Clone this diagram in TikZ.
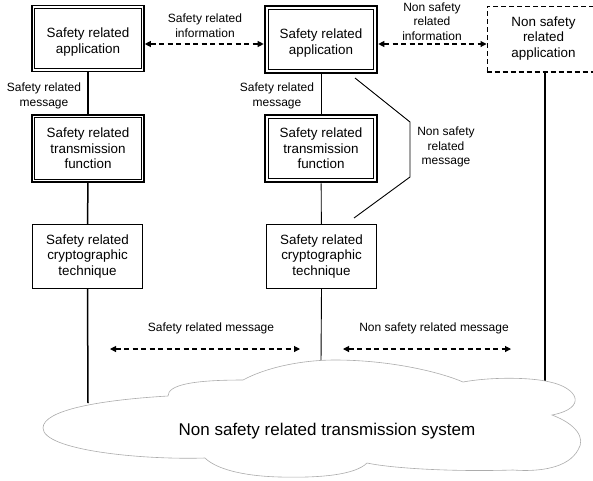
\documentclass[tikz,border=0pt]{standalone}
\usepackage{fontspec}
\setmainfont{Liberation Sans}
\usetikzlibrary{arrows.meta}
% text of the application boxes sits a little below the box centre
\newcommand\lowtext[1]{\raisebox{-4pt}[\height][\depth]{\begin{tabular}{@{}c@{}}#1\end{tabular}}}
\begin{document}
\begin{tikzpicture}[x=1pt,y=-1pt,
  txt/.style={font=\fontsize{12}{14.5}\selectfont, align=center, inner sep=0pt},
  boxtxt/.style={font=\fontsize{13.4}{15.5}\selectfont, align=center, inner sep=0pt},
  unit/.style={draw, boxtxt, line width=0.8pt, minimum width=110pt, minimum height=64pt},
  lefttier/.style={unit, line width=1.6pt, minimum width=112pt, minimum height=66pt},
  midtier/.style={unit, line width=2.6pt, minimum width=112pt, minimum height=67pt},
  plainbox/.style={draw, boxtxt, line width=1pt, dash pattern=on 5pt off 3pt, minimum width=113pt, minimum height=65pt},
  innerline/.style={line width=0.7pt},
  link/.style={line width=1.5pt},
  thinlink/.style={line width=0.9pt},
  msg/.style={line width=1.1pt, dash pattern=on 5pt off 3.5pt,
    {Triangle[length=6pt,width=6pt]}-{Triangle[length=6pt,width=6pt]}},
  cloudline/.style={draw=gray!65, fill=white, line width=0.6pt}
]
\useasboundingbox (0,0) rectangle (593,480);

% left end: safety related stack
\node[lefttier] (a1) at (88,38.5) {\lowtext{Safety related\\application}};
\node[lefttier, minimum height=67pt] (t1) at (88,148.5) {Safety related\\transmission\\function};
\node[unit] (c1) at (87.5,256.5) {Safety related\\cryptographic\\technique};

% middle end: safety related stack
\node[midtier] (a2) at (321,39.5) {\lowtext{Safety related\\application}};
\node[midtier] (t2) at (321,148.5) {Safety related\\transmission\\function};
\node[unit] (c2) at (321.5,256.5) {Safety related\\cryptographic\\technique};

% right end: non safety related application
\node[plainbox] (ns) at (543.5,38.5) {Non safety\\related\\application};
\draw[line width=2pt, dash pattern=on 5pt off 3pt] (ns.south west) -- (ns.south east);

% inner frames of the double-framed boxes
\foreach \n in {a1,t1}
  \draw[innerline] ([shift={(3.5,3.5)}]\n.north west) rectangle ([shift={(-3.5,-3.5)}]\n.south east);
\foreach \n in {a2,t2}
  \draw[innerline] ([shift={(4.5,4.5)}]\n.north west) rectangle ([shift={(-4.5,-4.5)}]\n.south east);

% where the stacks enter the transmission system
\coordinate (leftin) at (88,403);
\coordinate (midin) at (321,362);
\coordinate (rightin) at (545,382);

% vertical message paths
\draw[link] (a1) -- (t1);
\draw[link] (t1) -- (c1);
\draw[link] (c1.south) -- (leftin);
\draw[thinlink] (a2) -- (t2);
\draw[thinlink] (t2) -- (c2);
\draw[thinlink] (c2.south) -- (midin);
\draw[link] (ns.south -| rightin) -- (rightin);

% non safety related message bypassing the transmission function
\coordinate (byA) at (355,78);
\coordinate (byB) at (410,122);
\coordinate (byC) at (410,177);
\coordinate (byD) at (354,218);
\draw[thinlink] (byA) -- (byB) -- (byC) -- (byD);
\node[txt] (lblbypass) at (446,147) {Non safety\\related\\message};

% information exchange between applications
\draw[msg] ([yshift=-5.5pt]a1.east) -- ([yshift=-4.5pt]a2.west);
\draw[msg] ([yshift=-4.5pt]a2.east) -- ([yshift=-5.5pt]ns.west);
\node[txt] (lblinfo) at (205,25.5) {Safety related\\information};
\node[txt] (lblnsinfo) at (432,21.5) {Non safety\\related\\information};

% message labels beside the upper links
\node[txt] (lblmsgL) at (44,96) {Safety related\\message};
\node[txt] (lblmsgM) at (277,96) {Safety related\\message};

% messages across the transmission system
\coordinate (m1a) at (110,349);
\coordinate (m1b) at (300,349);
\coordinate (m2a) at (343,349);
\coordinate (m2b) at (511,349);
\draw[msg] (m1a) -- (m1b);
\draw[msg] (m2a) -- (m2b);
\node[txt] (lblsm) at (211,328) {Safety related message};
\node[txt] (lblnsm) at (434,328) {Non safety related message};

% the transmission system cloud
\path[cloudline]
  (43,428) .. controls (43,410) and (100,400) .. (168,396)
  .. controls (168,385) and (192,380) .. (243,380)
  .. controls (265,368) and (300,360) .. (335,360)
  .. controls (390,360) and (440,372) .. (463,382)
  .. controls (490,377) and (530,377) .. (550,382)
  .. controls (578,388) and (588,408) .. (552,415)
  .. controls (576,424) and (586,438) .. (578,450)
  .. controls (568,468) and (540,472) .. (513,470)
  .. controls (450,472) and (390,468) .. (367,463)
  .. controls (355,475) and (320,478) .. (280,477)
  .. controls (240,476) and (215,468) .. (205,458)
  .. controls (140,460) and (43,450) .. (43,428) -- cycle;
\node[font=\fontsize{17}{20}\selectfont, inner sep=0pt] (sys) at (327,431) {Non safety related transmission system};
\end{tikzpicture}
\end{document}
